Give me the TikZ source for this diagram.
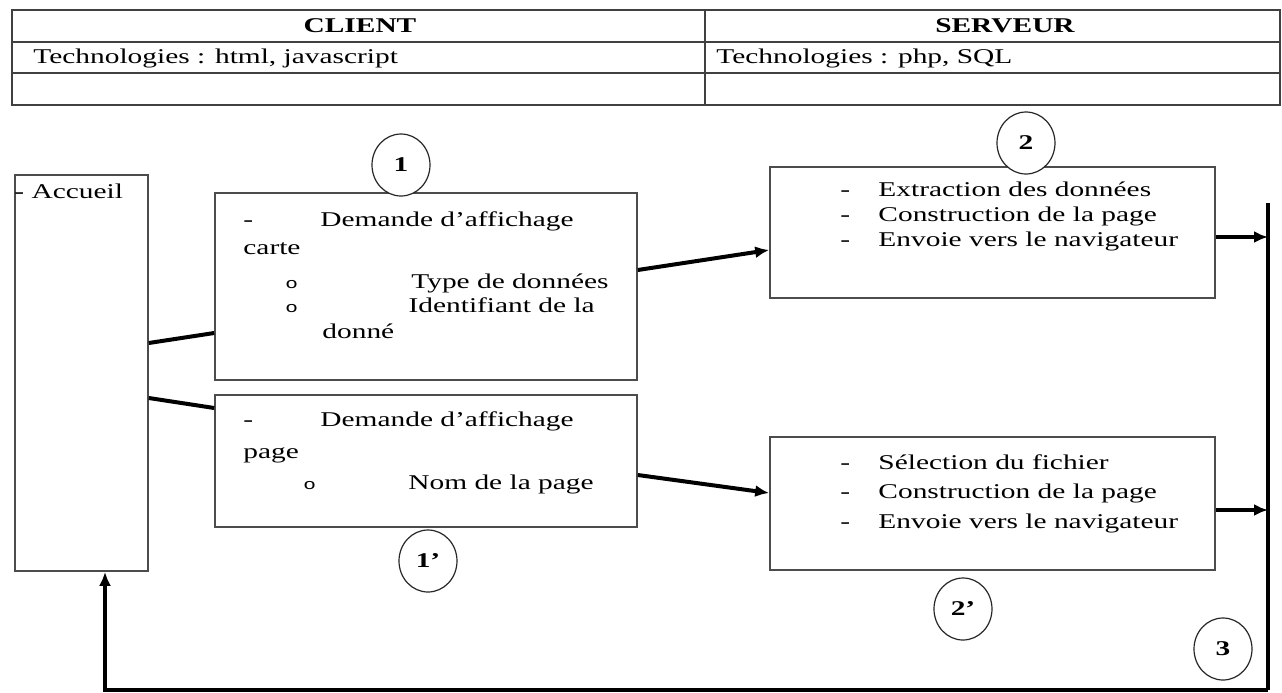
\documentclass[tikz,border=0pt]{standalone}
\usepackage{fontspec}
\setmainfont{Liberation Serif}
\setmonofont{Liberation Mono}
\usepackage{graphicx}
\usetikzlibrary{arrows.meta, calc, positioning, shapes}
\newcommand{\txtsize}{\fontsize{10.5}{12.5}\selectfont}
\newcommand{\wide}[1]{\scalebox{1.4}[1]{#1}}
\newcommand{\tiret}[2]{\wide{\makebox[#1][l]{-}#2}}
\newcommand{\puce}[2]{\wide{\makebox[#1][l]{\fontsize{7.5}{8}\selectfont\texttt{o}}#2}}
\tikzset
{%
box/.style={draw=black!70, line width=0.8pt, rectangle, inner sep=0pt},
num/.style={draw=black!85, ellipse, fill=white, line width=0.6pt, minimum width=29pt, minimum height=31pt, inner sep=0pt, font=\txtsize\bfseries},
txt/.style={anchor=base west, inner sep=0pt},
link/.style={line width=2pt},
flow/.style={line width=2pt, -{Latex[length=7pt,width=6pt]}},
grid/.style={draw=black!75, line width=0.8pt}
}

\begin{document}
\begin{tikzpicture}[x=0.5pt, y=-0.5pt, font=\txtsize]
	\useasboundingbox (0,0) rectangle (1282,692);
	
		% TABLE
		\draw[grid] (12,10) rectangle (1280,105);
		\draw[grid] (12,42) -- (1280,42) (12,73) -- (1280,73) (705,10) -- (705,105);
		\node[font=\txtsize\bfseries] (client) at (360,26) {\wide{CLIENT}};
		\node[font=\txtsize\bfseries] (serveur) at (1005,26) {\wide{SERVEUR}};
		\node[txt] (techc) at (33,63) {\wide{Technologies : html, javascript}};
		\node[txt] (techs) at (716,63) {\wide{Technologies : php, SQL}};
		
		% CLIENT SIDE
		\node[box, minimum width=66.5pt, minimum height=198pt] (accueil) at (81.5,373) {};
		\node[txt] (acc) at (14,198) {\wide{- Accueil}};
		
		\node[box, minimum width=211pt, minimum height=93.5pt] (carte) at (426,286.5) {};
		\node[txt] (carte1) at (243,226) {\tiret{27.5pt}{Demande d’affichage}};
		\node[txt] (carte2) at (243,254) {\wide{carte}};
		\node[txt] (carte3) at (285,288) {\puce{45pt}{Type de données}};
		\node[txt] (carte4) at (285,312) {\puce{44pt}{Identifiant de la}};
		\node[txt] (carte5) at (322,338) {\wide{donné}};
		
		\node[box, minimum width=211pt, minimum height=66pt] (page) at (426,461) {};
		\node[txt] (page1) at (243,426) {\tiret{27.5pt}{Demande d’affichage}};
		\node[txt] (page2) at (243,458) {\wide{page}};
		\node[txt] (page3) at (303,489) {\puce{37.5pt}{Nom de la page}};
		
		% SERVER SIDE
		\node[box, minimum width=222.5pt, minimum height=65.5pt] (extract) at (992.5,232.5) {};
		\node[txt] (extract1) at (840,196) {\tiret{13.6pt}{Extraction des données}};
		\node[txt] (extract2) at (840,221) {\tiret{13.6pt}{Construction de la page}};
		\node[txt] (extract3) at (840,246) {\tiret{13.6pt}{Envoie vers le navigateur}};
		
		\node[box, minimum width=222.5pt, minimum height=66.5pt] (select) at (992.5,503.5) {};
		\node[txt] (select1) at (840,469) {\tiret{13.6pt}{Sélection du fichier}};
		\node[txt] (select2) at (840,498) {\tiret{13.6pt}{Construction de la page}};
		\node[txt] (select3) at (840,528) {\tiret{13.6pt}{Envoie vers le navigateur}};
		
		% RETURN PATH
		\coordinate (bartop) at (1268,203);
		\coordinate (barbot) at (1268,690);
		\coordinate (back) at (105,690);
		
		\draw[link] ($(accueil.east)+(0,-30)$) -- ($(carte.west)+(0,46.5)$);
		\draw[link] ($(accueil.east)+(0,25)$) -- ($(page.west)+(0,-53)$);
		\draw[flow] ($(carte.east)+(0,-16.5)$) -- ($(extract.west)+(0,17.5)$);
		\draw[flow] ($(page.east)+(0,14)$) -- ($(select.west)+(0,-10.5)$);
		\draw[flow] ($(extract.east)+(0,4.5)$) coordinate (e2) -- (e2 -| bartop);
		\draw[flow] ($(select.east)+(0,6.5)$) coordinate (s2) -- (s2 -| bartop);
		\draw[link] (bartop) -- (barbot);
		\draw[flow] (barbot) -- (back) -- (back |- accueil.south);
		
		% STEPS
		\node[num] (n1) at (401,165) {\wide{1}};
		\node[num] (n1b) at (428,561) {\wide{1’}};
		\node[num] (n2) at (1026,143) {\wide{2}};
		\node[num] (n2b) at (963,609) {\wide{2’}};
		\node[num] (n3) at (1223,649) {\wide{3}};
	\end{tikzpicture}
\end{document}
